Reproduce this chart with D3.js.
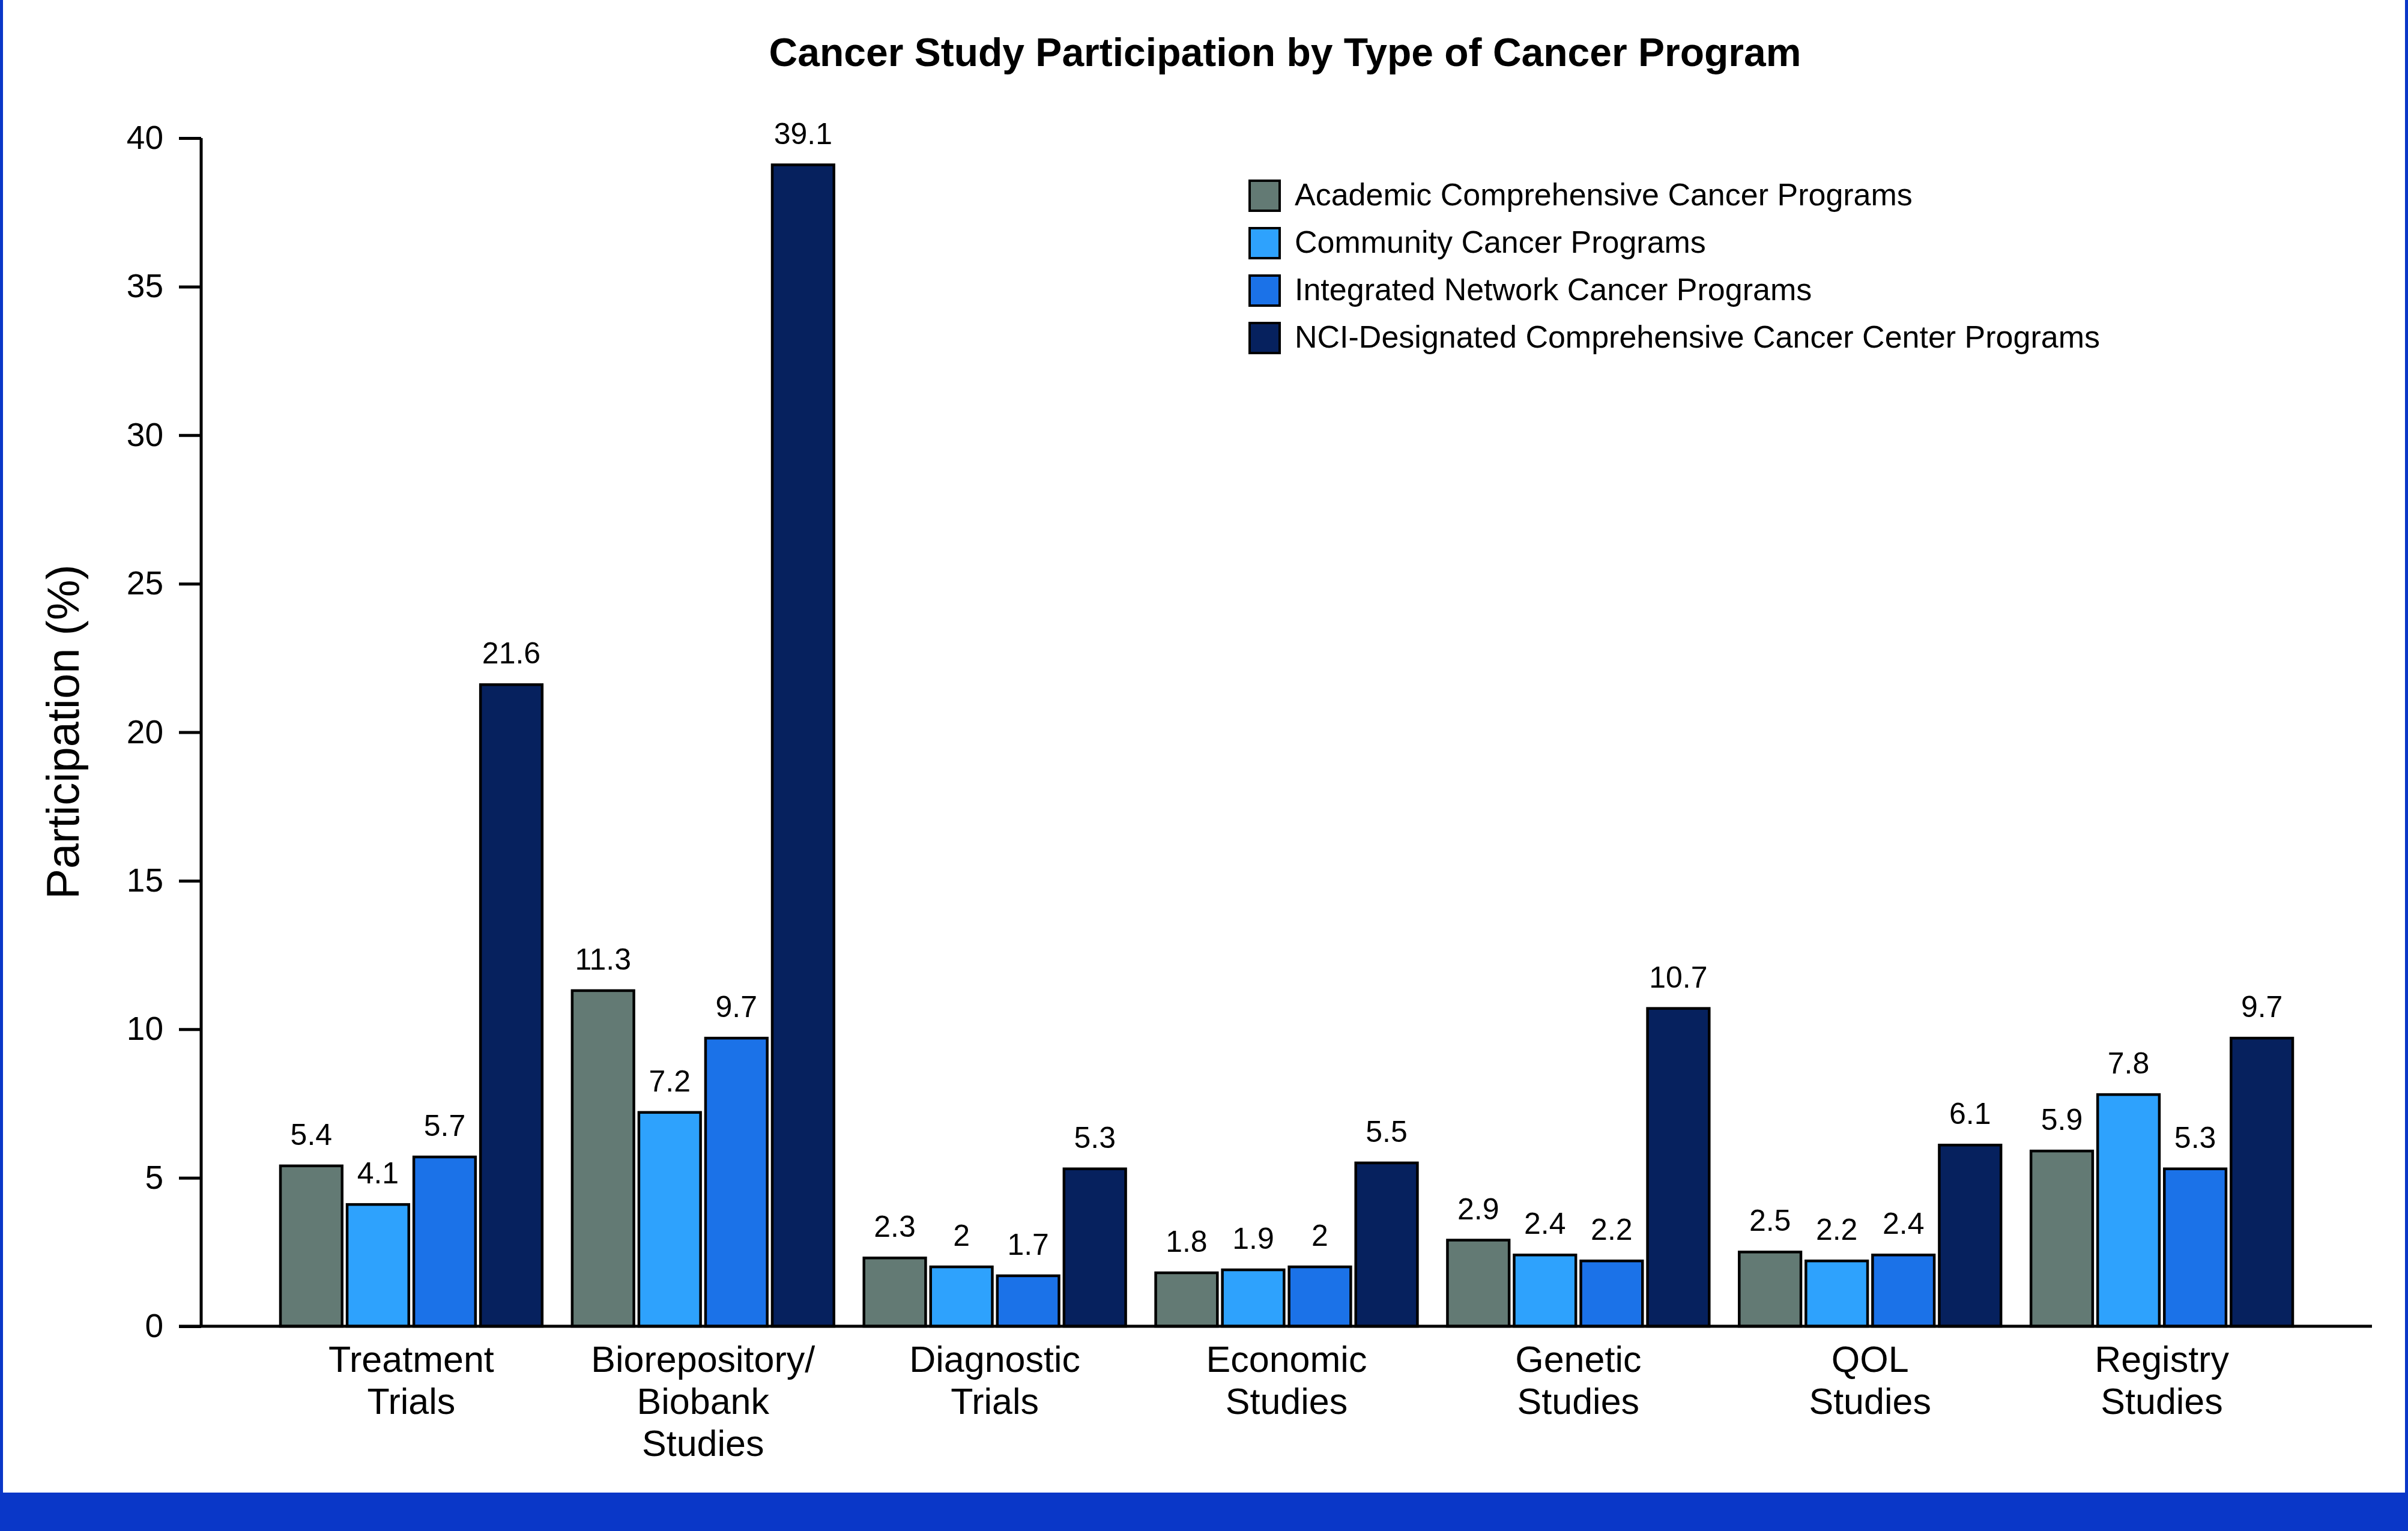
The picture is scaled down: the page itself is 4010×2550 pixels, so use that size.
<!DOCTYPE html>
<html>
<head>
<meta charset="utf-8">
<script src="https://cdn.jsdelivr.net/npm/d3@7"></script>
<style>
  html, body { margin: 0; padding: 0; background: #ffffff; }
  svg { display: block; }
  text { font-family: "Liberation Sans", Arial, Helvetica, sans-serif; fill: #000; }
</style>
</head>
<body>
<script>
// ---------- data ----------
const categories = ["Treatment Trials", "Biorepository/Biobank Studies", "Diagnostic Trials", "Economic Studies", "Genetic Studies", "QOL Studies", "Registry Studies"];
const categoryLines = [["Treatment", "Trials"], ["Biorepository/", "Biobank", "Studies"], ["Diagnostic", "Trials"], ["Economic", "Studies"], ["Genetic", "Studies"], ["QOL", "Studies"], ["Registry", "Studies"]];
const seriesNames = ["Academic Comprehensive Cancer Programs", "Community Cancer Programs", "Integrated Network Cancer Programs", "NCI-Designated Comprehensive Cancer Center Programs"];
const academic    = [5.4, 11.3, 2.3, 1.8, 2.9, 2.5, 5.9];
const community   = [4.1, 7.2, 2.0, 1.9, 2.4, 2.2, 7.8];
const integrated  = [5.7, 9.7, 1.7, 2.0, 2.2, 2.4, 5.3];
const nci         = [21.6, 39.1, 5.3, 5.5, 10.7, 6.1, 9.7];
const seriesValues = [academic, community, integrated, nci];
const seriesColors = ["#637a74", "#2ea2fd", "#1b72e8", "#06215e"];
const yTicks = [0, 5, 10, 15, 20, 25, 30, 35, 40];
const titleText = "Cancer Study Participation by Type of Cancer Program";
const yTitle = "Participation (%)";

// ---------- layout ----------
const W = 4010, H = 2550;
const svg = d3.select("body").append("svg").attr("width", W).attr("height", H);
svg.append("rect").attr("width", W).attr("height", H).attr("fill", "#fff");

// frame
const frameBlue = "#0a37c8";
svg.append("rect").attr("x", 0).attr("y", 0).attr("width", 5).attr("height", H).attr("fill", frameBlue);
svg.append("rect").attr("x", W - 5).attr("y", 0).attr("width", 5).attr("height", H).attr("fill", frameBlue);
svg.append("rect").attr("x", 0).attr("y", 2486).attr("width", W).attr("height", H - 2486).attr("fill", frameBlue);

const y = d3.scaleLinear().domain([0, 40]).range([2209, 230]);
const x0 = d3.scaleBand().domain(categories).range([442, 3843]).paddingInner(0).paddingOuter(0);
const x1 = d3.scaleBand().domain(seriesNames).range([25, x0.bandwidth() - 25]).paddingInner(0.075).paddingOuter(0);
const color = d3.scaleOrdinal().domain(seriesNames).range(seriesColors);

// title
svg.append("text").attr("x", 2140).attr("y", 110).attr("text-anchor", "middle")
  .style("font-size", "66px").style("font-weight", "bold").text(titleText);

// bars
const rows = [];
categories.forEach((c, i) => seriesNames.forEach((s, j) => rows.push({cat: c, ser: s, val: seriesValues[j][i]})));

const g = svg.append("g");
g.selectAll("rect.bar").data(rows).enter().append("rect")
  .attr("class", "bar")
  .attr("x", d => x0(d.cat) + x1(d.ser))
  .attr("width", x1.bandwidth())
  .attr("y", d => y(d.val))
  .attr("height", d => y(0) - y(d.val))
  .attr("fill", d => color(d.ser))
  .attr("stroke", "#000").attr("stroke-width", 4.5);

g.selectAll("text.val").data(rows).enter().append("text")
  .attr("class", "val")
  .attr("x", d => x0(d.cat) + x1(d.ser) + x1.bandwidth() / 2)
  .attr("y", d => y(d.val) - 35)
  .attr("text-anchor", "middle")
  .style("font-size", "50px")
  .text(d => d3.format("~g")(d.val));

// y axis
const yAxis = d3.axisLeft(y).tickValues(yTicks).tickSize(37).tickPadding(26).tickFormat(d3.format("d"));
const ya = svg.append("g").attr("transform", "translate(335,0)").call(yAxis);
ya.select(".domain").attr("stroke", "#000").attr("stroke-width", 5).attr("d", `M0,${y(40)}V${y(0)}`);
ya.selectAll(".tick line").attr("stroke", "#000").attr("stroke-width", 5);
ya.selectAll(".tick text").style("font-size", "55px").style("font-family", "Liberation Sans, Arial, sans-serif").attr("fill", "#000");

// x axis line
const xAxis = d3.axisBottom(x0).tickSize(0).tickFormat("");
const xa = svg.append("g").attr("transform", `translate(0,${y(0)})`).call(xAxis);
xa.select(".domain").attr("stroke", "#000").attr("stroke-width", 5).attr("d", "M298,0H3950");

// category labels
categories.forEach((c, i) => {
  const t = svg.append("text").attr("text-anchor", "middle").style("font-size", "61px");
  categoryLines[i].forEach((ln, k) => {
    t.append("tspan").attr("x", x0(c) + x0.bandwidth() / 2).attr("y", 2285 + k * 70).text(ln);
  });
});

// y title
svg.append("text").attr("transform", "translate(131,1219) rotate(-90)")
  .attr("text-anchor", "middle").style("font-size", "76px").text(yTitle);

// legend
const lg = svg.append("g").attr("transform", "translate(2081,301)");
seriesNames.forEach((s, i) => {
  lg.append("rect").attr("x", 0).attr("y", i * 79).attr("width", 50).attr("height", 50)
    .attr("fill", color(s)).attr("stroke", "#000").attr("stroke-width", 4);
  lg.append("text").attr("x", 75).attr("y", i * 79 + 41).style("font-size", "52px").text(s);
});
</script>
</body>
</html>
